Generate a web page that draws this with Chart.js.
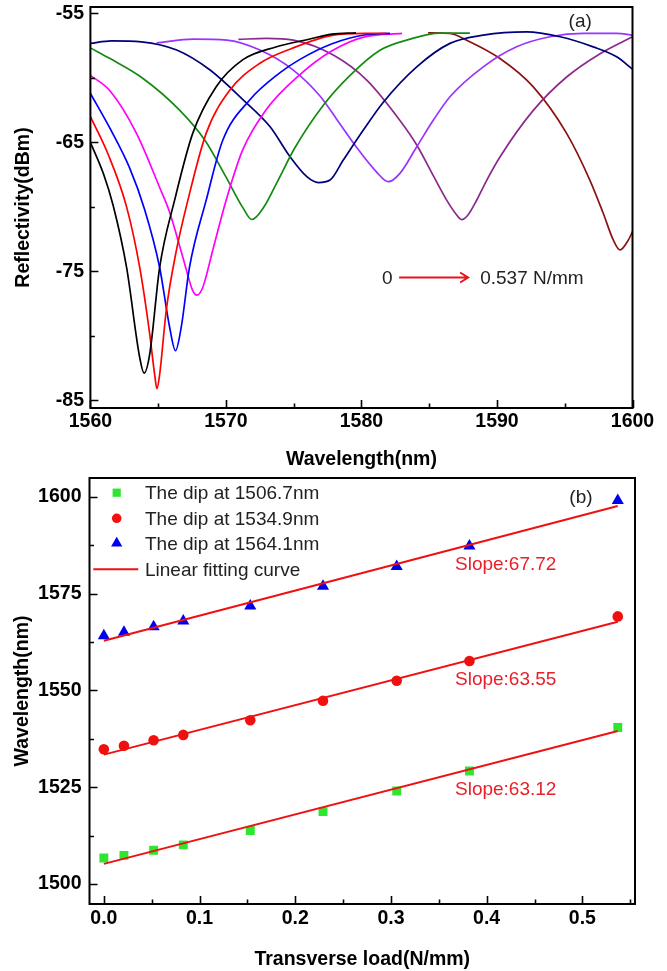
<!DOCTYPE html>
<html><head><meta charset="utf-8">
<script src="https://cdn.jsdelivr.net/npm/chart.js@4.4.1/dist/chart.umd.min.js"></script>
<style>
html,body{margin:0;padding:0;background:#fff;}
#wrapA{position:absolute;left:0;top:0;width:667px;height:470px;}
#wrapB{position:absolute;left:0;top:470px;width:667px;height:501px;}
canvas{display:block;}
</style></head><body>
<div id="wrapA"><canvas id="chartA" width="667" height="470"></canvas></div>
<div id="wrapB"><canvas id="chartB" width="667" height="501"></canvas></div>
<script>
// ---------- Panel (a) data ----------
const wlTicksA = [1560, 1570, 1580, 1590, 1600];
const wlMinorA = [1565, 1575, 1585, 1595];
const dbTicksA = [-85, -75, -65, -55];
const dbMinorA = [-80, -70, -60];

// spectra [wavelength nm, reflectivity dBm], load 0 -> 0.537 N/mm
const spec0 = [[1560.0,-65.0],[1560.95,-67.4],[1561.68,-69.9],[1562.67,-74.7],[1563.64,-81.7],[1563.96,-82.9],[1564.38,-81.4],[1565.11,-74.7],[1566.21,-69.5],[1567.55,-64.3],[1569.27,-60.7],[1571.23,-58.6],[1573.68,-57.6],[1576.12,-57.0],[1577.81,-56.6],[1579.6,-56.5]];
const spec1 = [[1560.0,-63.0],[1561.3,-65.9],[1562.67,-70.0],[1563.64,-74.7],[1564.38,-79.9],[1564.74,-83.0],[1564.91,-84.1],[1565.11,-83.0],[1565.6,-78.0],[1566.34,-73.4],[1567.19,-69.5],[1568.54,-64.3],[1570.25,-61.0],[1572.45,-58.9],[1574.9,-57.7],[1577.83,-56.7],[1580.29,-56.55],[1581.85,-56.55]];
const spec2 = [[1560.0,-61.2],[1561.44,-63.9],[1562.9,-67.0],[1564.0,-70.2],[1565.11,-74.7],[1565.84,-79.3],[1566.28,-81.15],[1566.7,-79.35],[1567.31,-74.7],[1568.54,-69.5],[1569.76,-64.85],[1571.72,-61.75],[1573.92,-59.65],[1575.4,-58.6],[1577.83,-57.35],[1580.29,-56.65],[1582.1,-56.55]];
const spec3 = [[1560.0,-59.8],[1561.44,-61.0],[1563.4,-64.3],[1565.11,-68.5],[1565.84,-70.4],[1566.82,-73.9],[1567.55,-76.5],[1567.85,-76.85],[1568.29,-76.25],[1569.02,-73.4],[1570.01,-69.5],[1571.23,-65.6],[1572.94,-62.5],[1575.4,-59.8],[1577.83,-57.9],[1580.29,-56.8],[1583.0,-56.55]];
const spec4 = [[1560.0,-57.67],[1561.45,-58.5],[1563.76,-59.95],[1566.58,-62.5],[1568.45,-64.84],[1570.01,-67.7],[1571.27,-70.1],[1571.91,-70.98],[1572.81,-70.0],[1573.77,-68.1],[1575.1,-65.4],[1577.2,-62.1],[1579.16,-59.8],[1581.37,-57.85],[1583.59,-56.99],[1585.8,-56.53],[1588.0,-56.53]];
const spec5 = [[1560.0,-57.32],[1561.55,-57.12],[1563.76,-57.2],[1566.37,-57.84],[1568.83,-59.39],[1571.29,-61.72],[1573.26,-63.79],[1574.73,-66.11],[1575.97,-67.66],[1576.82,-68.12],[1577.68,-67.92],[1578.66,-66.37],[1580.14,-64.04],[1581.6,-61.9],[1584.08,-59.14],[1586.53,-57.32],[1588.99,-56.68],[1592.19,-56.43],[1594.65,-56.81],[1597.1,-57.59],[1598.83,-58.36],[1600.0,-59.32]];
const spec6 = [[1564.89,-57.28],[1567.59,-56.99],[1570.06,-57.07],[1572.51,-57.84],[1574.97,-59.39],[1576.94,-61.4],[1578.17,-63.2],[1579.65,-65.4],[1581.12,-67.3],[1581.98,-68.05],[1582.84,-67.4],[1584.08,-65.34],[1585.31,-63.27],[1586.53,-61.46],[1588.99,-59.14],[1591.45,-57.59],[1593.91,-56.81],[1596.38,-56.55],[1598.83,-56.55],[1600.0,-56.68]];
const spec7 = [[1570.92,-57.01],[1572.99,-56.94],[1574.97,-57.07],[1577.92,-58.23],[1580.39,-60.17],[1582.84,-63.3],[1584.08,-65.2],[1585.31,-67.6],[1586.3,-69.5],[1586.9,-70.45],[1587.4,-70.99],[1587.86,-70.63],[1588.5,-69.49],[1589.24,-67.94],[1590.22,-66.13],[1592.68,-62.52],[1595.14,-59.93],[1597.61,-58.12],[1600.0,-56.81]];
const spec8 = [[1584.92,-56.5],[1586.53,-56.55],[1587.76,-57.07],[1590.22,-58.49],[1592.68,-60.69],[1595.14,-64.3],[1596.86,-67.94],[1597.84,-70.5],[1598.58,-72.56],[1599.08,-73.34],[1599.7,-72.56],[1600.0,-71.92]];
const specLabels = ['0', '0.021', '0.052', '0.083', '0.153', '0.229', '0.306', '0.382', '0.537'];

// ---------- Panel (b) data ----------
const loadTicksB = [0, 0.1, 0.2, 0.3, 0.4, 0.5];
const loadMinorB = [0.05, 0.15, 0.25, 0.35, 0.45, 0.55];
const wlTicksB = [1500, 1525, 1550, 1575, 1600];
const wlMinorB = [1512.5, 1537.5, 1562.5, 1587.5];

const loads = [0, 0.021, 0.052, 0.083, 0.153, 0.229, 0.306, 0.382, 0.537];
const dip1506 = [1506.7, 1507.4, 1508.7, 1510.1, 1513.8, 1518.7, 1524.0, 1529.2, 1540.4];
const dip1534 = [1534.8, 1535.7, 1537.1, 1538.5, 1542.3, 1547.3, 1552.5, 1557.6, 1569.1];
const dip1564 = [1564.1, 1565.0, 1566.4, 1567.9, 1571.8, 1576.9, 1582.0, 1587.3, 1599.0];
const fitLoads = [0, 0.537];
const fit1506 = [1505.2, 1539.5];
const fit1534 = [1533.4, 1567.7];
const fit1564 = [1562.8, 1597.6];
const legendLabels = ['The dip at 1506.7nm', 'The dip at 1534.9nm', 'The dip at 1564.1nm', 'Linear fitting curve'];
const slopeLabels = ['Slope:63.12', 'Slope:63.55', 'Slope:67.72'];

// ---------- styles ----------
const FONT = '"Liberation Sans", Arial, Helvetica, sans-serif';
const specColors = ['#000000', '#ff0000', '#0000ff', '#ff00ff', '#138a13', '#00007a', '#9933ff', '#8b2a8b', '#8b1212'];

function pairs(a) { return a.map(p => ({x: p[0], y: p[1]})); }
function zip(xs, ys) { return xs.map((x, i) => ({x: x, y: ys[i]})); }

const frameTicks = {
  id: 'frameTicks',
  afterDraw(chart, args, opts) {
    const ctx = chart.ctx, a = chart.chartArea, xs = chart.scales.x, ys = chart.scales.y;
    ctx.save();
    ctx.strokeStyle = '#000';
    ctx.lineWidth = 1.6;
    ctx.beginPath();
    const dx = (vals, len) => vals.forEach(v => { const p = Math.round(xs.getPixelForValue(v)) + 0.5; ctx.moveTo(p, a.bottom); ctx.lineTo(p, a.bottom - len); });
    const dy = (vals, len) => vals.forEach(v => { const p = Math.round(ys.getPixelForValue(v)) + 0.5; ctx.moveTo(a.left, p); ctx.lineTo(a.left + len, p); });
    dx(xs.ticks.map(t => t.value), 8); dx(opts.xMinor || [], 4.5);
    dy(ys.ticks.map(t => t.value), 8); dy(opts.yMinor || [], 4.5);
    ctx.stroke();
    ctx.lineWidth = 2;
    ctx.strokeRect(a.left, a.top, a.right - a.left, a.bottom - a.top);
    ctx.restore();
  }
};

function axisCfg(o) {
  return {
    type: 'linear', min: o.min, max: o.max,
    afterBuildTicks: s => { s.ticks = o.ticks.map(v => ({value: v})); },
    afterFit: s => {
      if (o.width !== undefined) s.width = o.width;
      if (o.height !== undefined) s.height = o.height;
      s.paddingTop = 0; s.paddingBottom = 0; s.paddingLeft = 0; s.paddingRight = 0;
    },
    grid: {display: false, drawTicks: false},
    border: {display: false},
    ticks: {
      autoSkip: false, maxRotation: 0, padding: o.pad, color: '#000',
      font: {family: FONT, size: 19.5, weight: 'bold'},
      callback: o.fmt
    },
    title: {
      display: true, text: o.title, color: '#000',
      font: {family: FONT, size: 19.5, weight: 'bold', lineHeight: 1},
      padding: o.tpad
    }
  };
}

// ---------- Chart (a) ----------
const annotA = {
  id: 'annotA',
  afterDraw(chart) {
    const ctx = chart.ctx, x = chart.scales.x, y = chart.scales.y;
    ctx.save();
    ctx.font = '19px ' + FONT;
    ctx.fillStyle = '#222';
    ctx.textBaseline = 'middle';
    const yy = y.getPixelForValue(-75.48);
    ctx.textAlign = 'center';
    ctx.fillText('0', x.getPixelForValue(1581.9), yy + 1);
    ctx.textAlign = 'left';
    ctx.fillText('0.537 N/mm', x.getPixelForValue(1588.76), yy + 1);
    const x0 = x.getPixelForValue(1582.78), x1 = x.getPixelForValue(1587.87);
    ctx.strokeStyle = '#e8141c';
    ctx.lineWidth = 2;
    ctx.beginPath();
    ctx.moveTo(x0, yy); ctx.lineTo(x1, yy);
    ctx.moveTo(x1 - 8, yy - 5); ctx.lineTo(x1, yy); ctx.lineTo(x1 - 8, yy + 5);
    ctx.stroke();
    ctx.textAlign = 'center';
    ctx.fillText('(a)', x.getPixelForValue(1596.14), y.getPixelForValue(-55.67));
    ctx.restore();
  }
};

const spectra = [spec0, spec1, spec2, spec3, spec4, spec5, spec6, spec7, spec8];
new Chart(document.getElementById('chartA'), {
  type: 'line',
  data: {
    datasets: spectra.map((s, i) => ({
      label: specLabels[i] + ' N/mm',
      data: pairs(s),
      borderColor: specColors[i],
      borderWidth: 1.7,
      pointRadius: 0,
      fill: false,
      cubicInterpolationMode: 'monotone'
    }))
  },
  options: {
    responsive: false, animation: false, devicePixelRatio: 1, events: [],
    layout: {autoPadding: false, padding: {top: 7, right: 34.5, left: 0, bottom: 0}},
    plugins: {legend: {display: false}, tooltip: {enabled: false}, frameTicks: {xMinor: wlMinorA, yMinor: dbMinorA}},
    scales: {
      x: axisCfg({min: 1560, max: 1600, ticks: wlTicksA, height: 62, pad: 1.8, fmt: v => String(v), title: 'Wavelength(nm)', tpad: {top: 0, bottom: 0.3}}),
      y: axisCfg({min: -85.6, max: -54.5, ticks: dbTicksA, width: 90.4, pad: 6.4, fmt: v => String(v), title: 'Reflectivity(dBm)', tpad: {top: 13.8, bottom: 0}})
    }
  },
  plugins: [frameTicks, annotA]
});

// ---------- Chart (b) ----------
const annotB = {
  id: 'annotB',
  afterDraw(chart) {
    const ctx = chart.ctx, x = chart.scales.x, y = chart.scales.y;
    const ds = chart.data.datasets;
    ctx.save();
    ctx.font = '19px ' + FONT;
    ctx.textBaseline = 'middle';
    ctx.textAlign = 'left';
    ctx.fillStyle = '#e8202a';
    const sy = [1524.27, 1552.67, 1582.55];
    slopeLabels.forEach((t, i) => ctx.fillText(t, x.getPixelForValue(0.3669), y.getPixelForValue(sy[i])));
    ctx.fillStyle = '#222';
    ctx.textAlign = 'center';
    ctx.fillText('(b)', x.getPixelForValue(0.4985), y.getPixelForValue(1599.66));
    // legend
    const rows = [22.7, 48.3, 73.3, 99.3];
    ctx.textAlign = 'left';
    for (let i = 0; i < 3; i++) {
      const d = ds[i + 3];
      ctx.fillStyle = d.backgroundColor;
      ctx.strokeStyle = d.borderColor;
      Chart.helpers.drawPoint(ctx, {pointStyle: d.pointStyle, radius: d.pointRadius - 0.5, rotation: 0, borderWidth: 0}, 116.7, rows[i]);
      ctx.fillStyle = '#222';
      ctx.fillText(legendLabels[i], 145, rows[i] + 1);
    }
    ctx.strokeStyle = ds[0].borderColor;
    ctx.lineWidth = 2;
    ctx.beginPath(); ctx.moveTo(93.3, rows[3]); ctx.lineTo(138.3, rows[3]); ctx.stroke();
    ctx.fillStyle = '#222';
    ctx.fillText(legendLabels[3], 145, rows[3] + 1);
    ctx.restore();
  }
};

const fitStyle = {borderColor: '#ee1111', borderWidth: 2, pointRadius: 0, showLine: true, fill: false};
new Chart(document.getElementById('chartB'), {
  type: 'scatter',
  data: {
    datasets: [
      Object.assign({label: legendLabels[3], data: zip(fitLoads, fit1506)}, fitStyle),
      Object.assign({label: legendLabels[3], data: zip(fitLoads, fit1534)}, fitStyle),
      Object.assign({label: legendLabels[3], data: zip(fitLoads, fit1564)}, fitStyle),
      {label: legendLabels[0], data: zip(loads, dip1506), pointStyle: 'rect', pointRadius: 6.3, backgroundColor: '#2ee62e', borderColor: '#2ee62e', borderWidth: 0},
      {label: legendLabels[1], data: zip(loads, dip1534), pointStyle: 'circle', pointRadius: 5.3, backgroundColor: '#f01010', borderColor: '#f01010', borderWidth: 0},
      {label: legendLabels[2], data: zip(loads, dip1564), pointStyle: 'triangle', pointRadius: 7, backgroundColor: '#0000f0', borderColor: '#0000f0', borderWidth: 0}
    ]
  },
  options: {
    responsive: false, animation: false, devicePixelRatio: 1, events: [],
    layout: {autoPadding: false, padding: {top: 8, right: 32, left: 0, bottom: 0}},
    plugins: {legend: {display: false}, tooltip: {enabled: false}, frameTicks: {xMinor: loadMinorB, yMinor: wlMinorB}},
    scales: {
      x: axisCfg({min: -0.015, max: 0.555, ticks: loadTicksB, height: 67, pad: 3.3, fmt: v => v.toFixed(1), title: 'Transverse load(N/mm)', tpad: {top: 0, bottom: 1.2}}),
      y: axisCfg({min: 1494.84, max: 1604.83, ticks: wlTicksB, width: 89.5, pad: 8, fmt: v => String(v), title: 'Wavelength(nm)', tpad: {top: 12.7, bottom: 0}})
    }
  },
  plugins: [frameTicks, annotB]
});
</script>
</body></html>
